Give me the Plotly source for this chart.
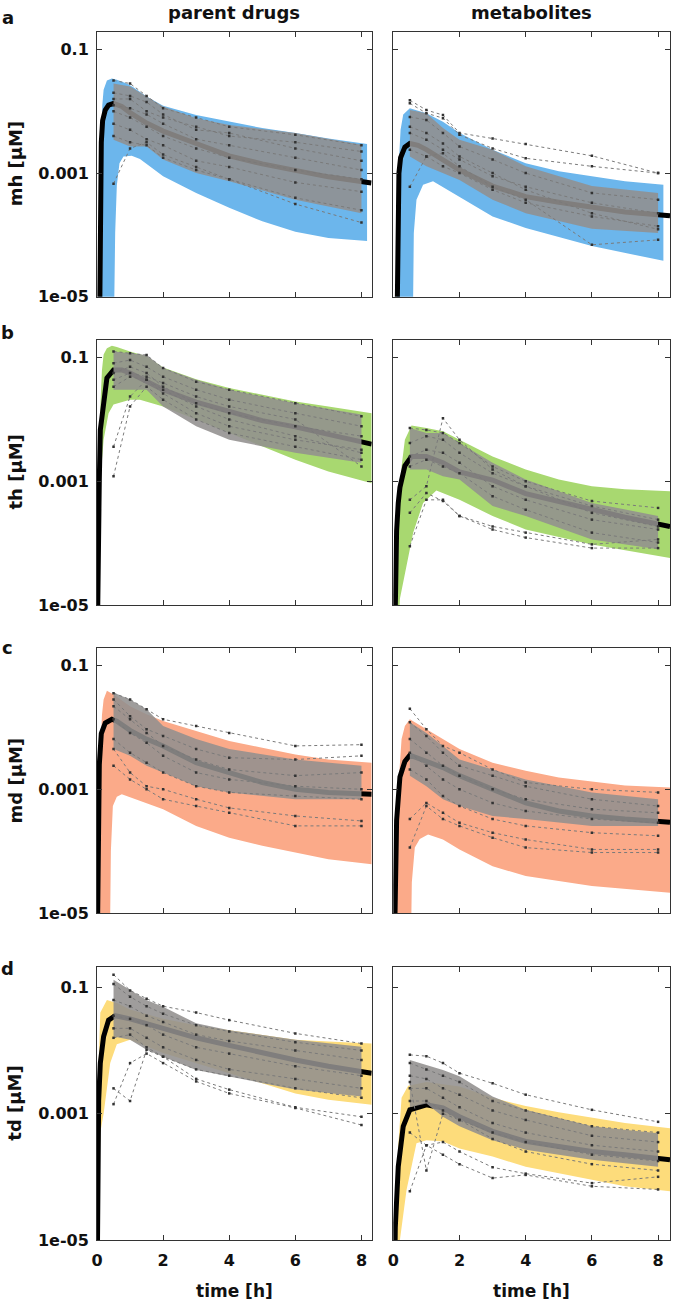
import numpy as np
import plotly.graph_objects as go

# ---------------- data (log10 of concentration in µM) ----------------
SAMPLE_T = [0.5, 1, 1.5, 2, 3, 4, 6, 8]
X_TICKS = [0, 2, 4, 6, 8]
Y_TICKVALS = [1e-5, 1e-3, 1e-1]
Y_TICKTEXT = ["1e-05", "0.001", "0.1"]
ROW_LABELS = ["mh", "th", "md", "td"]
PANEL_LETTERS = ["a", "b", "c", "d"]
COL_TITLES = ["parent drugs", "metabolites"]

# --- mh, parent ---
mh_par_up_t = [0.04, 0.08, 0.12, 0.16, 0.2, 0.3, 0.45, 0.6, 0.9, 1.1, 1.5, 2, 3, 4, 5, 6, 7, 8.17]
mh_par_up = [-6, -4.5, -2.6, -1.9, -1.65, -1.5, -1.47, -1.49, -1.55, -1.61, -1.76, -1.91, -2.06, -2.17, -2.27, -2.35, -2.44, -2.53]
mh_par_lo_t = [0.04, 0.5, 0.55, 0.6, 0.68, 0.8, 1.05, 1.3, 2, 3, 4, 5, 6, 7, 8.17]
mh_par_lo = [-6, -6, -3.97, -3.2, -2.84, -2.73, -2.72, -2.77, -3.05, -3.32, -3.56, -3.78, -3.95, -4.05, -4.1]
mh_par_med_t = [0.07, 0.09, 0.11, 0.13, 0.17, 0.25, 0.35, 0.5, 0.75, 1, 1.5, 2, 3, 4, 5, 6, 7, 8.3]
mh_par_med = [-6, -4.5, -3.2, -2.5, -2.15, -1.98, -1.9, -1.87, -1.92, -2.02, -2.19, -2.32, -2.52, -2.72, -2.85, -2.96, -3.06, -3.16]
mh_par_core_hi = [-1.55, -1.6, -1.76, -1.92, -2.11, -2.22, -2.35, -2.54]
mh_par_core_lo = [-2.46, -2.57, -2.57, -2.78, -3.0, -3.13, -3.43, -3.65]
mh_par_subj = [
    [-1.50, -1.55, -1.75, -1.95, -2.10, -2.25, -2.38, -2.55],
    [-1.70, -1.75, -1.85, -2.05, -2.30, -2.35, -2.60, -2.80],
    [-1.90, -1.95, -2.05, -2.20, -2.45, -2.55, -2.75, -2.95],
    [-2.00, -2.10, -2.25, -2.40, -2.60, -2.75, -2.95, -3.10],
    [-2.20, -2.30, -2.45, -2.55, -2.80, -2.90, -3.15, -3.30],
    [-2.40, -2.50, -2.55, -2.75, -2.95, -3.10, -3.40, -3.60],
    [-3.17, -2.60, -2.50, -2.70, -2.90, -3.10, -3.50, -3.80],
    [-1.80, -1.80, -2.00, -2.10, -2.25, -2.40, -2.50, -2.65],
]

# --- mh, metabolite ---
mh_met_up_t = [0.08, 0.12, 0.16, 0.22, 0.3, 0.5, 1.0, 1.5, 2, 3, 4, 5, 6, 7, 8.16]
mh_met_up = [-6, -4.0, -2.9, -2.3, -2.05, -1.95, -2.03, -2.17, -2.35, -2.62, -2.84, -2.97, -3.05, -3.13, -3.19]
mh_met_lo_t = [0.08, 0.58, 0.62, 0.7, 0.9, 1.2, 1.5, 2, 3, 4, 6, 8.16]
mh_met_lo = [-6, -6, -3.97, -3.43, -3.19, -3.13, -3.22, -3.38, -3.7, -3.89, -4.18, -4.42]
mh_met_med_t = [0.1, 0.12, 0.14, 0.17, 0.22, 0.35, 0.5, 0.75, 1, 1.5, 2, 3, 4, 5, 6, 7, 8.36]
mh_met_med = [-6, -4.5, -3.5, -3.0, -2.75, -2.58, -2.52, -2.55, -2.62, -2.78, -2.95, -3.21, -3.38, -3.47, -3.56, -3.63, -3.69]
mh_met_core_hi = [-1.98, -2.03, -2.27, -2.46, -2.62, -2.89, -3.21, -3.32]
mh_met_core_lo = [-2.73, -2.89, -3.0, -3.11, -3.43, -3.65, -3.9, -3.97]
mh_met_subj = [
    [-1.82, -1.98, -2.06, -2.35, -2.44, -2.53, -2.72, -3.00],
    [-1.87, -2.03, -2.11, -2.38, -2.60, -2.76, -2.89, -3.00],
    [-2.09, -2.14, -2.35, -2.57, -2.78, -3.00, -3.32, -3.43],
    [-2.35, -2.46, -2.62, -2.78, -3.05, -3.22, -3.48, -3.65],
    [-2.62, -2.73, -2.89, -3.00, -3.27, -3.48, -3.70, -3.86],
    [-2.25, -2.35, -2.52, -2.73, -3.00, -3.27, -3.65, -3.91],
    [-3.22, -2.73, -2.68, -2.89, -3.22, -3.43, -4.16, -4.08],
]

# --- th, parent ---
th_par_up_t = [0.0, 0.03, 0.06, 0.1, 0.15, 0.2, 0.3, 0.45, 0.6, 1, 1.5, 2, 3, 4, 5, 6, 7, 8.31]
th_par_up = [-6, -4.0, -2.8, -1.8, -1.2, -0.95, -0.85, -0.81, -0.83, -0.9, -0.98, -1.16, -1.35, -1.49, -1.6, -1.71, -1.79, -1.9]
th_par_lo_t = [0.0, 0.05, 0.1, 0.2, 0.35, 0.5, 1.0, 1.3, 2, 3, 4, 5, 6, 7, 8.31]
th_par_lo = [-6, -6, -3.0, -2.33, -1.9, -1.76, -1.68, -1.68, -1.79, -2.0, -2.22, -2.44, -2.65, -2.84, -3.03]
th_par_med_t = [0.0, 0.02, 0.04, 0.07, 0.1, 0.17, 0.3, 0.5, 0.75, 1, 1.5, 2, 3, 4, 5, 6, 7, 8.31]
th_par_med = [-6, -4.5, -3.5, -2.97, -2.17, -1.84, -1.33, -1.2, -1.2, -1.25, -1.38, -1.52, -1.72, -1.88, -2.02, -2.12, -2.25, -2.4]
th_par_core_hi = [-0.9, -0.93, -0.96, -1.17, -1.36, -1.52, -1.74, -1.92]
th_par_core_lo = [-1.52, -1.52, -1.52, -1.79, -2.11, -2.33, -2.54, -2.7]
th_par_subj = [
    [-0.90, -0.93, -0.96, -1.17, -1.39, -1.52, -1.74, -1.95],
    [-1.09, -1.04, -1.15, -1.31, -1.52, -1.68, -1.90, -2.11],
    [-1.25, -1.15, -1.25, -1.47, -1.74, -1.90, -2.11, -2.27],
    [-1.47, -1.31, -1.36, -1.58, -1.90, -2.11, -2.33, -2.49],
    [-2.92, -1.79, -1.47, -1.68, -2.00, -2.22, -2.44, -2.65],
    [-2.44, -1.63, -1.36, -1.52, -1.79, -2.00, -2.27, -2.54],
    [-1.36, -1.25, -1.31, -1.41, -1.63, -1.79, -2.00, -2.76],
]

# --- th, metabolite ---
th_met_up_t = [0.1, 0.15, 0.2, 0.25, 0.35, 0.55, 1, 1.5, 2, 3, 4, 5, 6, 7, 8.36]
th_met_up = [-6, -4.0, -3.2, -2.76, -2.33, -2.1, -2.14, -2.19, -2.33, -2.6, -2.81, -2.97, -3.08, -3.13, -3.16]
th_met_lo_t = [0.1, 0.2, 0.4, 0.6, 0.9, 1.3, 2, 3, 4, 6, 8.36]
th_met_lo = [-6, -4.9, -4.37, -3.83, -3.35, -3.15, -3.3, -3.56, -3.78, -4.02, -4.24]
th_met_med_t = [0.03, 0.06, 0.1, 0.15, 0.2, 0.35, 0.55, 1, 1.5, 2, 3, 4, 5, 6, 7, 8.36]
th_met_med = [-6, -4.6, -3.8, -3.35, -3.1, -2.75, -2.6, -2.6, -2.7, -2.85, -2.98, -3.2, -3.33, -3.45, -3.58, -3.73]
th_met_core_hi = [-2.14, -2.22, -2.22, -2.38, -2.7, -2.97, -3.35, -3.56]
th_met_core_lo = [-2.81, -2.81, -2.92, -2.97, -3.4, -3.56, -3.94, -4.1]
th_met_subj = [
    [-2.14, -2.17, -2.22, -2.38, -2.76, -3.00, -3.32, -3.43],
    [-2.38, -2.27, -2.33, -2.54, -2.87, -3.08, -3.40, -3.62],
    [-2.60, -2.49, -2.54, -2.70, -3.08, -3.30, -3.62, -3.78],
    [-2.76, -2.65, -2.76, -2.87, -3.24, -3.46, -3.83, -3.99],
    [-4.05, -3.30, -3.30, -3.56, -3.78, -3.91, -4.08, -4.08],
    [-3.51, -3.19, -3.32, -3.56, -3.73, -3.83, -4.02, -3.94],
    [-3.30, -3.08, -1.98, -2.33, -2.81, -3.08, -3.51, -3.73],
]

# --- md, parent ---
md_par_up_t = [0.0, 0.05, 0.1, 0.15, 0.2, 0.3, 0.5, 1, 1.5, 2, 3, 4, 5, 6, 7, 8.31]
md_par_up = [-6, -4.0, -2.5, -1.8, -1.55, -1.41, -1.47, -1.66, -1.79, -1.9, -2.06, -2.22, -2.33, -2.44, -2.52, -2.57]
md_par_lo_t = [0.0, 0.38, 0.42, 0.48, 0.6, 0.75, 1.5, 2, 3, 4, 5, 6, 7, 8.31]
md_par_lo = [-6, -6, -4.0, -3.27, -3.12, -3.08, -3.22, -3.32, -3.59, -3.78, -3.91, -4.02, -4.13, -4.21]
md_par_med_t = [0.0, 0.02, 0.04, 0.07, 0.13, 0.25, 0.45, 0.6, 1, 1.5, 2, 3, 4, 5, 6, 7, 8.31]
md_par_med = [-6, -4.5, -3.5, -2.6, -2.1, -1.93, -1.87, -1.9, -2.05, -2.19, -2.3, -2.57, -2.73, -2.89, -3.0, -3.05, -3.08]
md_par_core_hi = [-1.44, -1.55, -1.71, -1.98, -2.19, -2.35, -2.52, -2.62]
md_par_core_lo = [-2.35, -2.46, -2.62, -2.73, -2.95, -3.05, -3.16, -3.16]
md_par_subj = [
    [-1.45, -1.55, -1.71, -1.87, -1.98, -2.09, -2.30, -2.28],
    [-1.55, -1.82, -2.03, -2.14, -2.35, -2.49, -2.52, -2.46],
    [-1.66, -1.87, -2.09, -2.30, -2.52, -2.68, -2.78, -2.73],
    [-1.87, -2.09, -2.25, -2.46, -2.73, -2.84, -2.95, -3.00],
    [-2.19, -2.41, -2.57, -2.73, -2.95, -3.05, -3.11, -3.16],
    [-2.35, -2.73, -2.95, -3.00, -3.16, -3.30, -3.43, -3.51],
    [-2.62, -2.84, -3.00, -3.16, -3.27, -3.38, -3.59, -3.59],
]

# --- md, metabolite ---
md_met_up_t = [0.08, 0.12, 0.16, 0.25, 0.35, 0.5, 1, 1.5, 2, 3, 4, 5, 6, 7, 8.36]
md_met_up = [-6, -4.0, -2.9, -2.19, -1.98, -1.87, -2.03, -2.19, -2.35, -2.57, -2.7, -2.81, -2.88, -2.94, -2.97]
md_met_lo_t = [0.08, 0.52, 0.56, 0.65, 0.8, 1.05, 1.5, 2, 3, 4, 6, 8.36]
md_met_lo = [-6, -6, -4.5, -3.94, -3.8, -3.73, -3.81, -3.97, -4.24, -4.4, -4.56, -4.67]
md_met_med_t = [0.02, 0.05, 0.1, 0.2, 0.35, 0.5, 1, 1.5, 2, 3, 4, 5, 6, 7, 8.36]
md_met_med = [-6, -4.5, -3.5, -2.8, -2.55, -2.45, -2.55, -2.65, -2.78, -3.0, -3.22, -3.35, -3.43, -3.48, -3.53]
md_met_core_hi = [-1.92, -2.09, -2.3, -2.52, -2.68, -2.84, -3.05, -3.16]
md_met_core_lo = [-2.78, -2.95, -3.16, -3.27, -3.43, -3.48, -3.59, -3.59]
md_met_subj = [
    [-1.70, -2.03, -2.30, -2.41, -2.68, -2.89, -3.00, -3.05],
    [-1.92, -2.14, -2.41, -2.62, -2.78, -2.95, -3.16, -3.27],
    [-2.19, -2.41, -2.62, -2.78, -3.00, -3.16, -3.32, -3.38],
    [-2.41, -2.62, -2.84, -3.00, -3.22, -3.35, -3.48, -3.54],
    [-2.68, -2.84, -3.11, -3.27, -3.48, -3.59, -3.70, -3.75],
    [-3.48, -3.22, -3.38, -3.54, -3.70, -3.81, -3.97, -3.97],
    [-3.94, -3.27, -3.48, -3.59, -3.78, -3.94, -4.02, -4.02],
]

# --- td, parent ---
td_par_up_t = [0.0, 0.03, 0.1, 0.3, 0.6, 1, 2, 3, 4, 5, 6, 7, 8.31]
td_par_up = [-6, -2.5, -1.4, -1.2, -1.25, -1.35, -1.5, -1.6, -1.68, -1.76, -1.83, -1.86, -1.89]
td_par_lo_t = [0.0, 0.05, 0.1, 0.2, 0.4, 0.6, 1, 2, 3, 4, 5, 6, 7, 8.31]
td_par_lo = [-6, -6, -3.3, -3.0, -2.2, -1.9, -1.83, -2.04, -2.2, -2.36, -2.52, -2.68, -2.78, -2.86]
td_par_med_t = [0.0, 0.02, 0.05, 0.1, 0.2, 0.35, 0.55, 1, 2, 3, 4, 5, 6, 7, 8.31]
td_par_med = [-6, -4.0, -2.8, -2.2, -1.78, -1.52, -1.45, -1.5, -1.65, -1.8, -1.92, -2.04, -2.15, -2.25, -2.36]
td_par_core_hi = [-0.88, -1.04, -1.2, -1.31, -1.57, -1.68, -1.83, -1.94]
td_par_core_lo = [-1.78, -1.83, -1.99, -2.1, -2.31, -2.41, -2.62, -2.73]
td_par_subj = [
    [-0.80, -1.05, -1.18, -1.30, -1.40, -1.52, -1.73, -1.89],
    [-0.95, -1.15, -1.30, -1.42, -1.60, -1.70, -1.87, -2.00],
    [-1.20, -1.30, -1.45, -1.55, -1.75, -1.85, -2.00, -2.15],
    [-1.45, -1.50, -1.60, -1.75, -1.95, -2.05, -2.25, -2.40],
    [-1.65, -1.65, -1.80, -1.95, -2.15, -2.30, -2.45, -2.60],
    [-2.60, -2.80, -1.99, -2.10, -2.45, -2.62, -2.90, -3.05],
    [-2.85, -2.20, -2.05, -2.20, -2.49, -2.68, -2.91, -3.18],
    [-1.80, -1.75, -1.95, -2.10, -2.30, -2.40, -2.60, -2.75],
]

# --- td, metabolite ---
td_met_up_t = [0.08, 0.15, 0.25, 0.45, 1, 2, 3, 4, 5, 6, 7, 8.36]
td_met_up = [-6, -3.5, -2.75, -2.56, -2.5, -2.57, -2.75, -2.88, -2.98, -3.07, -3.15, -3.23]
td_met_lo_t = [0.08, 0.2, 0.4, 0.7, 1.0, 1.5, 2, 3, 4, 5, 6, 7, 8.36]
td_met_lo = [-6, -5.0, -4.21, -3.47, -3.42, -3.44, -3.55, -3.68, -3.84, -3.94, -4.05, -4.15, -4.23]
td_met_med_t = [0.03, 0.06, 0.15, 0.3, 0.5, 1, 1.5, 2, 3, 4, 5, 6, 7, 8.36]
td_met_med = [-6, -4.8, -3.84, -3.2, -2.94, -2.86, -2.91, -3.05, -3.28, -3.44, -3.52, -3.6, -3.65, -3.73]
td_met_core_hi = [-2.15, -2.23, -2.31, -2.41, -2.73, -2.94, -3.2, -3.31]
td_met_core_lo = [-2.9, -2.84, -3.05, -3.2, -3.42, -3.57, -3.73, -3.84]
td_met_subj = [
    [-2.07, -2.09, -2.20, -2.36, -2.52, -2.70, -2.94, -3.13],
    [-2.20, -2.30, -2.40, -2.50, -2.80, -2.95, -3.20, -3.30],
    [-2.40, -2.45, -2.60, -2.70, -2.95, -3.10, -3.35, -3.45],
    [-2.60, -2.60, -2.75, -2.90, -3.15, -3.30, -3.50, -3.60],
    [-2.80, -2.80, -2.95, -3.10, -3.30, -3.45, -3.65, -3.75],
    [-4.23, -3.50, -3.45, -3.60, -3.85, -3.95, -4.10, -4.00],
    [-3.30, -3.50, -3.65, -3.80, -4.02, -3.97, -4.15, -4.20],
    [-2.50, -3.90, -3.00, -3.10, -3.40, -3.60, -3.80, -3.90],
]

PANELS = [
    (mh_par_up_t, mh_par_up, mh_par_lo_t, mh_par_lo, mh_par_med_t, mh_par_med, mh_par_core_hi, mh_par_core_lo, mh_par_subj),
    (mh_met_up_t, mh_met_up, mh_met_lo_t, mh_met_lo, mh_met_med_t, mh_met_med, mh_met_core_hi, mh_met_core_lo, mh_met_subj),
    (th_par_up_t, th_par_up, th_par_lo_t, th_par_lo, th_par_med_t, th_par_med, th_par_core_hi, th_par_core_lo, th_par_subj),
    (th_met_up_t, th_met_up, th_met_lo_t, th_met_lo, th_met_med_t, th_met_med, th_met_core_hi, th_met_core_lo, th_met_subj),
    (md_par_up_t, md_par_up, md_par_lo_t, md_par_lo, md_par_med_t, md_par_med, md_par_core_hi, md_par_core_lo, md_par_subj),
    (md_met_up_t, md_met_up, md_met_lo_t, md_met_lo, md_met_med_t, md_met_med, md_met_core_hi, md_met_core_lo, md_met_subj),
    (td_par_up_t, td_par_up, td_par_lo_t, td_par_lo, td_par_med_t, td_par_med, td_par_core_hi, td_par_core_lo, td_par_subj),
    (td_met_up_t, td_met_up, td_met_lo_t, td_met_lo, td_met_med_t, td_met_med, td_met_core_hi, td_met_core_lo, td_met_subj),
]

# ---------------- layout / style ----------------
W, H = 675, 1305
ML, MR, MT, MB = 97, 5, 32, 65
PW, PH = W - ML - MR, H - MT - MB
BAND_COLORS = ["#6cb6ec", "#a8d870", "#fbaa89", "#fddc7b"]
COL_PX = [(97, 371.7), (393.3, 670)]
ROW_PX = [(32, 296.7), (340, 605), (647.7, 913.3), (967.3, 1240)]
ROW_YTOP = [-0.716, -0.716, -0.716, -0.684]
COL_XMAX = [8.31, 8.36]
FONT = "DejaVu Sans"


def fx(p):
    return (p - ML) / PW


def fy(p):
    return (H - MB - p) / PH


def clamp(v):
    return min(1.0, max(0.0, v))


fig = go.Figure()
layout_axes = {}
for i, (ut, u, lt, lo, mt, md, chi, clo, subj) in enumerate(PANELS):
    r, c = divmod(i, 2)
    n = i + 1
    xa = "x" if n == 1 else f"x{n}"
    ya = "y" if n == 1 else f"y{n}"
    color = BAND_COLORS[r]
    # prediction band
    bx = list(ut) + list(lt)[::-1]
    by = 10 ** np.array(list(u) + list(lo)[::-1])
    fig.add_trace(go.Scatter(x=bx, y=by, fill="toself", fillcolor=color, mode="lines",
                             line=dict(width=0, color=color), xaxis=xa, yaxis=ya,
                             showlegend=False, hoverinfo="skip"))
    # median
    fig.add_trace(go.Scatter(x=mt, y=10 ** np.array(md), mode="lines",
                             line=dict(color="black", width=5), xaxis=xa, yaxis=ya,
                             showlegend=False, hoverinfo="skip"))
    # dense core of observed profiles
    cx = SAMPLE_T + SAMPLE_T[::-1]
    cy = 10 ** np.array(list(chi) + list(clo)[::-1])
    fig.add_trace(go.Scatter(x=cx, y=cy, fill="toself", fillcolor="rgba(146,144,142,0.88)",
                             mode="lines", line=dict(width=0), xaxis=xa, yaxis=ya,
                             showlegend=False, hoverinfo="skip"))
    # individual observed profiles
    for s in subj:
        fig.add_trace(go.Scatter(x=SAMPLE_T, y=10 ** np.array(s), mode="lines+markers",
                                 line=dict(color="#7a7a7a", width=1, dash="dot"),
                                 marker=dict(size=2.5, color="#333333", symbol="square"),
                                 xaxis=xa, yaxis=ya, showlegend=False, hoverinfo="skip"))

    x0, x1 = COL_PX[c]
    y0, y1 = ROW_PX[r]
    key_x = "xaxis" if n == 1 else f"xaxis{n}"
    key_y = "yaxis" if n == 1 else f"yaxis{n}"
    layout_axes[key_x] = dict(
        domain=[clamp(fx(x0)), clamp(fx(x1))], anchor=ya, range=[0, COL_XMAX[c]],
        tickmode="array", tickvals=X_TICKS, ticktext=[str(v) for v in X_TICKS],
        showticklabels=(r == 3), ticks="inside", ticklen=5, tickcolor="#333",
        ticklabelstandoff=6,
        showline=True, linecolor="#333", linewidth=1, mirror="allticks",
        showgrid=False, zeroline=False,
        tickfont=dict(family=FONT, size=16, color="#111", weight="bold"),
    )
    layout_axes[key_y] = dict(
        domain=[clamp(fy(y1)), clamp(fy(y0))], anchor=xa, type="log", range=[-5, ROW_YTOP[r]],
        tickmode="array", tickvals=Y_TICKVALS, ticktext=Y_TICKTEXT,
        showticklabels=(c == 0), ticks="inside", ticklen=5, tickcolor="#333",
        ticklabelstandoff=4,
        showline=True, linecolor="#333", linewidth=1, mirror="allticks",
        showgrid=False, zeroline=False,
        tickfont=dict(family=FONT, size=16, color="#111", weight="bold"),
    )

ann = []
tf = dict(family=FONT, size=18, color="#111", weight="bold")
for c, title in enumerate(COL_TITLES):
    cx_ = (COL_PX[c][0] + COL_PX[c][1]) / 2
    ann.append(dict(text=title, x=fx(cx_), y=fy(12), xref="paper", yref="paper",
                    showarrow=False, font=tf, xanchor="center", yanchor="middle"))
    ann.append(dict(text="time [h]", x=fx(cx_), y=fy(1291), xref="paper", yref="paper",
                    showarrow=False, font=dict(family=FONT, size=17, color="#111", weight="bold"),
                    xanchor="center", yanchor="middle"))
LETTER_Y = [17.5, 332, 647, 968]
for r in range(4):
    ann.append(dict(text=PANEL_LETTERS[r], x=fx(7.5), y=fy(LETTER_Y[r]), xref="paper", yref="paper",
                    showarrow=False, font=tf, xanchor="center", yanchor="middle"))
    yc = (ROW_PX[r][0] + ROW_PX[r][1]) / 2
    ann.append(dict(text=f"{ROW_LABELS[r]} [µM]", x=fx(15), y=fy(yc), xref="paper", yref="paper",
                    showarrow=False, font=tf, textangle=-90, xanchor="center", yanchor="middle"))

fig.update_layout(
    width=W, height=H, margin=dict(l=ML, r=MR, t=MT, b=MB),
    paper_bgcolor="white", plot_bgcolor="white", showlegend=False,
    annotations=ann, **layout_axes,
)
# remove the browser's default 8px body margin so the figure fills the page exactly
fig.write_html("out.html", config={"displayModeBar": False},
               post_script="document.body.style.margin='0';")
